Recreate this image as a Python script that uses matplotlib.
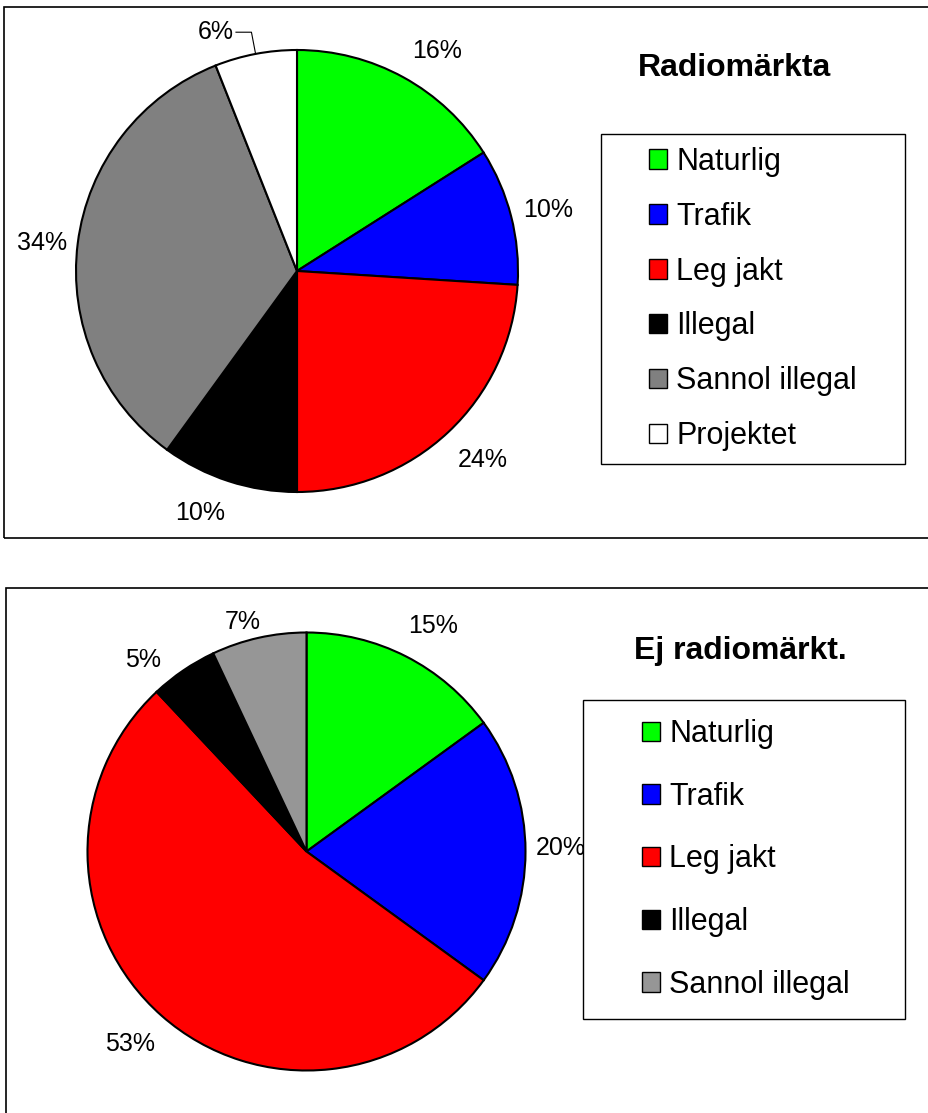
import numpy as np
import matplotlib
matplotlib.use('Agg')
import matplotlib.pyplot as plt
from matplotlib.patches import Rectangle

plt.rcParams['font.family'] = ['Liberation Sans', 'DejaVu Sans']

top_title = 'Radiomärkta'
top_labels = ['Naturlig', 'Trafik', 'Leg jakt', 'Illegal', 'Sannol illegal', 'Projektet']
top_values = [16, 10, 24, 10, 34, 6]
top_colors = ['#00ff00', '#0000ff', '#ff0000', '#000000', '#808080', '#ffffff']

bottom_title = 'Ej radiomärkt.'
bottom_labels = ['Naturlig', 'Trafik', 'Leg jakt', 'Illegal', 'Sannol illegal']
bottom_values = [15, 20, 53, 5, 7]
bottom_colors = ['#00ff00', '#0000ff', '#ff0000', '#000000', '#969696']

W, H = 929, 1113
fig = plt.figure(figsize=(W / 100, H / 100), dpi=100)


def fx(px):
    return px / W


def fy(py):
    return 1 - py / H


def draw_panel(values, labels, colors, title, center, radius, frame, title_xy,
               box, marker_x, step, label_pos, leader=None):
    cx, cy = center
    ax = fig.add_axes([fx(cx - radius), fy(cy + radius), 2 * radius / W, 2 * radius / H])
    wedges, texts, autotexts = ax.pie(values, colors=colors, startangle=90, counterclock=False,
                                      autopct='%1.0f%%', pctdistance=1.18,
                                      wedgeprops=dict(edgecolor='black', linewidth=1.5),
                                      textprops=dict(fontsize=18))
    ax.set_xlim(-1, 1)
    ax.set_ylim(-1, 1)
    # label placement: (distance, angle shift in degrees) per slice
    for w, t, (d, shift) in zip(wedges, autotexts, label_pos):
        theta = np.deg2rad((w.theta1 + w.theta2) / 2 + shift)
        t.set_position((d * np.cos(theta), d * np.sin(theta)))
    if leader is not None:
        w = wedges[leader]
        t = autotexts[leader]
        theta = np.deg2rad((w.theta1 + w.theta2) / 2)
        p0 = np.array([np.cos(theta), np.sin(theta)])
        p1 = 1.1 * p0
        p2 = p1 - np.array([0.07, 0])
        ax.plot([p0[0], p1[0], p2[0]], [p0[1], p1[1], p2[1]], color='black', lw=0.8, clip_on=False)
        t.set_position((p2[0] - 0.01, p2[1]))
        t.set_ha('right')

    x0, y0, x1, y1 = frame
    fig.patches.append(Rectangle((fx(x0), fy(y1)), fx(x1 - x0), (y1 - y0) / H, fill=False,
                                 edgecolor='black', lw=1.2, transform=fig.transFigure, zorder=1))
    fig.text(fx(title_xy[0]), fy(title_xy[1]), title, fontsize=23, fontweight='bold',
             ha='center', va='center')

    bx0, by0, bx1, by1 = box
    fig.patches.append(Rectangle((fx(bx0), fy(by1)), fx(bx1 - bx0), (by1 - by0) / H,
                                 facecolor='white', edgecolor='black', lw=1.0,
                                 transform=fig.transFigure, zorder=4))
    leg = fig.legend(wedges, labels, loc='center left',
                     bbox_to_anchor=(fx(marker_x), fy((by0 + by1) / 2)),
                     frameon=False, fontsize=22, borderpad=0, borderaxespad=0,
                     handlelength=0.6, handleheight=0.6, handletextpad=0.3,
                     labelspacing=(step - 30) / 30.5)
    leg.set_zorder(5)
    for h in leg.legend_handles:
        h.set_linewidth(1.0)
    return ax


draw_panel(top_values, top_labels, top_colors, top_title, (297, 271), 221,
           (4, 7, 960, 538), (735, 68), (601, 134, 905, 464), 649, 54.8,
           [(1.18, -3.6), (1.17, -0.8), (1.2, 1.3), (1.18, -3.8), (1.16, 0.9), (1.14, 0)],
           leader=5)
draw_panel(bottom_values, bottom_labels, bottom_colors, bottom_title, (306.5, 851.5), 219,
           (6, 588, 960, 1140), (740, 651), (583, 700, 905, 1019), 642, 62.5,
           [(1.18, -2.2), (1.16, 0.7), (1.19, -1.1), (1.15, 6.4), (1.09, 3.0)])

plt.savefig('out.png', dpi=100)
